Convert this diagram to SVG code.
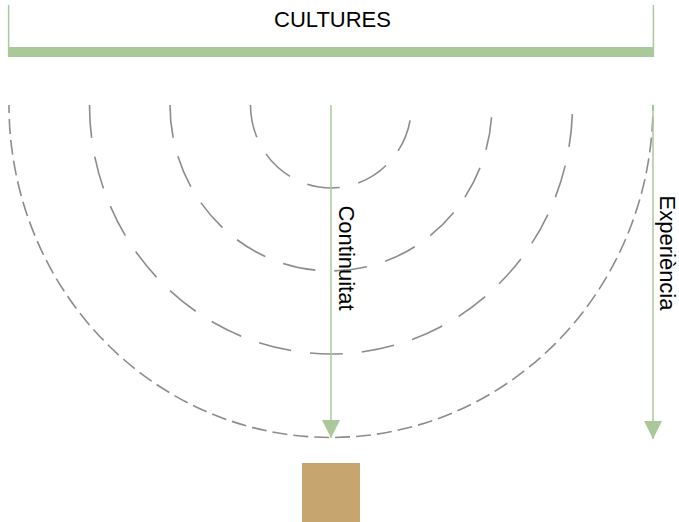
<svg xmlns="http://www.w3.org/2000/svg" width="679" height="522" viewBox="0 0 679 522">
<style>
.arc{fill:none;stroke:#8c8c8c;stroke-width:1.6}
.inner{stroke-dasharray:33 19}
.outer{stroke-dasharray:15 6;stroke-dashoffset:7}
.conn{stroke:#a9c99a;stroke-width:1.5;fill:none}
.lbl{font-family:"Liberation Sans",Arial,sans-serif;font-size:22px;fill:#000}
</style>
<defs>
<marker id="ah" viewBox="0 0 18 18" markerWidth="18" markerHeight="18" refX="18" refY="9" orient="auto" markerUnits="userSpaceOnUse">
<path d="M0 0 L18 9 L0 18 Z" fill="#a9c99a"/>
</marker>
</defs>
<rect width="679" height="522" fill="#fff"/>
<g id="cultures">
<rect x="8" y="47" width="646" height="10" fill="#a9c99a"/>
<line x1="8.6" y1="5" x2="8.6" y2="57" stroke="#a9c99a" stroke-width="1.5"/>
<line x1="653.4" y1="5" x2="653.4" y2="57" stroke="#a9c99a" stroke-width="1.5"/>
<text class="lbl" x="332.5" y="26.5" text-anchor="middle">CULTURES</text>
</g>
<g id="arcs">
<path class="arc inner" d="M250.5 105 A80.5 83 0 0 0 411.5 105"/>
<path class="arc inner" d="M170 105 A161 166 0 0 0 492 105"/>
<path class="arc inner" d="M89.5 105 A241.5 249 0 0 0 572.5 105"/>
<path class="arc outer" d="M9 105 A322 332.5 0 0 0 653 105"/>
</g>
<g id="connectors">
<line class="conn" x1="331" y1="105" x2="331" y2="438" marker-end="url(#ah)"/>
<line class="conn" x1="653" y1="105" x2="653" y2="439" marker-end="url(#ah)"/>
</g>
<g id="continuitat">
<text class="lbl" transform="translate(339,258) rotate(90)" text-anchor="middle">Continuitat</text>
</g>
<g id="experiencia">
<text class="lbl" transform="translate(660,253) rotate(90)" text-anchor="middle">Experiència</text>
</g>
<g id="box">
<rect x="302" y="463" width="58" height="59" fill="#c6a56e"/>
</g>
</svg>
